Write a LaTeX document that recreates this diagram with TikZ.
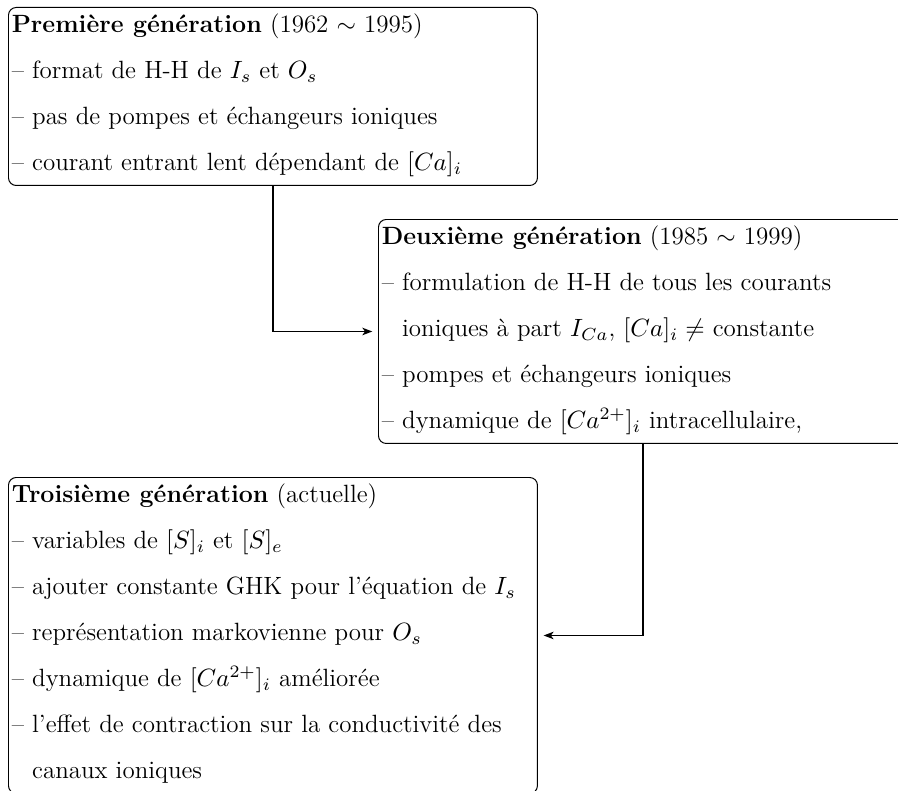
\RequirePackage{fix-cm}
\documentclass[tikz,border=0pt]{standalone}
\usepackage{fontspec}
\usetikzlibrary{arrows.meta}
\newcommand\boxline[1]{\hbox to 237.4pt{\rule[-9.4pt]{0pt}{20.9pt}#1\hfil}}
\newcommand\lastboxline[1]{\hbox to 237.4pt{\rule[-6.7pt]{0pt}{18.2pt}#1\hfil}}
\newcommand\dashitem{--\ }
\newcommand\genfont{\fontsize{11.35pt}{13.6pt}\selectfont}
\tikzset{
  gen/.style={draw=black, line width=0.45pt, rounded corners=3.5pt, inner xsep=1.5pt, inner ysep=0pt, anchor=north west, font=\genfont},
  flow/.style={draw=black, line width=0.65pt, -{Stealth[length=4.5pt,width=3.4pt,inset=1.2pt]}, shorten >=2.6pt}
}
\begin{document}
\begin{tikzpicture}[x=0.4545pt, y=-0.4545pt]
\useasboundingbox (0,0) rectangle (898,790);
\node[gen] (g1) at (8,7) {\vbox{\offinterlineskip
  \boxline{\textbf{Première génération} (1962 $\sim$ 1995)}
  \boxline{\dashitem format de H-H de $I_s$ et $O_s$}
  \boxline{\dashitem pas de pompes et échangeurs ioniques}
  \lastboxline{\dashitem courant entrant lent dépendant de $[Ca]_i$}}};
\node[gen] (g2) at (378,219) {\vbox{\offinterlineskip
  \boxline{\textbf{Deuxième génération} (1985 $\sim$ 1999)}
  \boxline{\dashitem formulation de H-H de tous les courants}
  \boxline{\hphantom{\dashitem}ioniques à part $I_{Ca}$, $[Ca]_i \neq$ constante}
  \boxline{\dashitem pompes et échangeurs ioniques}
  \lastboxline{\dashitem dynamique de $[Ca^{2+}]_i$ intracellulaire,}}};
\node[gen] (g3) at (8,477) {\vbox{\offinterlineskip
  \boxline{\textbf{Troisième génération} (actuelle)}
  \boxline{\dashitem variables de $[S]_i$ et $[S]_e$}
  \boxline{\dashitem ajouter constante GHK pour l'équation de $I_s$}
  \boxline{\dashitem représentation markovienne pour $O_s$}
  \boxline{\dashitem dynamique de $[Ca^{2+}]_i$ améliorée}
  \boxline{\dashitem l'effet de contraction sur la conductivité des}
  \lastboxline{\hphantom{\dashitem}canaux ioniques}}};
\draw[flow] (g1.south) |- (g2.west);
\draw[flow] (g2.south) |- (g3.east);
\end{tikzpicture}
\end{document}
